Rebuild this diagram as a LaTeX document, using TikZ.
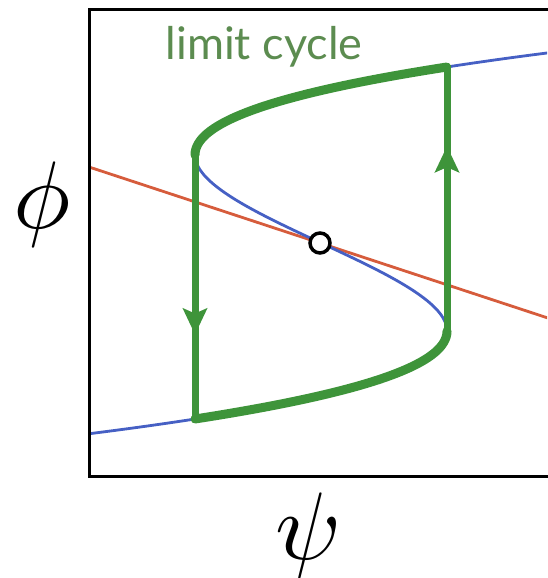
\documentclass[tikz,border=0pt]{standalone}
\usepackage{fontspec}
\newfontfamily\labelfont{Lato}
\usetikzlibrary{arrows.meta, decorations.markings}
\definecolor{cycgreen}{RGB}{62,148,58}
\definecolor{txtgreen}{RGB}{92,140,80}
\definecolor{nullblue}{RGB}{70,96,196}
\definecolor{nullred}{RGB}{214,92,60}

\begin{document}
\begin{tikzpicture}[x=1pt, y=1pt,
    cyc/.style={draw=cycgreen, line width=8pt, line cap=round},
    flow/.style={postaction={decorate}, decoration={markings,
        mark=at position #1 with {\arrow{Stealth[length=26pt,width=24pt,inset=5pt]}}}},
    nc/.style={line width=2.8pt},
    fixpt/.style={draw, circle, line width=3.5pt, fill=white, minimum size=20pt, inner sep=0pt}
]
    \useasboundingbox (0,0) rectangle (547,578);
    % nullclines, kept inside the frame
    \begin{scope}
        \clip (89,101) rectangle (547,568);
        \draw[nullred, nc] (89,411) -- (560,256);
        \draw[nullblue, nc] plot[domain=-1.95:1.95, samples=160, smooth]
            ({321+92.45*\x*\x*\x-214.78*\x}, {335+100*\x});
    \end{scope}
    \draw[line width=3pt] (560,568) -- (89,568) -- (89,101) -- (560,101);
    % limit cycle
    \draw[cyc, line width=9pt] plot[domain=0.88:1.76, samples=60, smooth]
        ({321+92.45*\x*\x*\x-214.78*\x}, {335+100*\x});
    \draw[cyc, line width=9pt] plot[domain=-1.76:-0.88, samples=60, smooth]
        ({321+92.45*\x*\x*\x-214.78*\x}, {335+100*\x});
    \draw[cyc, line width=7pt, flow=0.68] (195,423) -- (195,159);
    \draw[cyc, line width=7pt, flow=0.70] (447,247) -- (447,511);
    \node[fixpt] (fp) at (320,335) {};
    % labels
    \node[font=\labelfont\fontsize{45}{45}\selectfont, text=txtgreen, anchor=base] (lc) at (264,518) {limit cycle};
    \node[scale=9.6] (phi) at (42,373) {$\phi$};
    \node[scale=9.6] (psi) at (308,43) {$\psi$};
\end{tikzpicture}
\end{document}
